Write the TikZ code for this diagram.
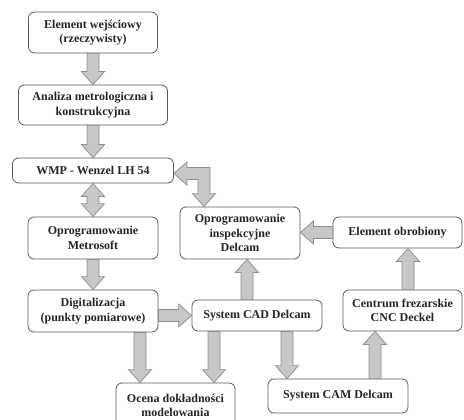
\documentclass[tikz,border=0pt]{standalone}
\usepackage{fontspec}
\setmainfont{Liberation Serif}
\usetikzlibrary{calc}
\newcommand\fatarrow[2]{%
  \coordinate (fhA) at ($(#2)!13pt!(#1)$);
  \draw[arr] ($(#1)!6pt!90:(#2)$) -- ($(fhA)!6pt!90:(#2)$) -- ($(fhA)!11.5pt!90:(#2)$) -- (#2)
    -- ($(fhA)!11.5pt!-90:(#2)$) -- ($(fhA)!6pt!-90:(#2)$) -- ($(#1)!6pt!-90:(#2)$) -- cycle;}
\newcommand\fatdarrow[2]{%
  \coordinate (fhA) at ($(#2)!13pt!(#1)$);
  \coordinate (fhB) at ($(#1)!13pt!(#2)$);
  \draw[arr] (#1) -- ($(fhB)!11.5pt!90:(#2)$) -- ($(fhB)!6pt!90:(#2)$) -- ($(fhA)!6pt!90:(#2)$)
    -- ($(fhA)!11.5pt!90:(#2)$) -- (#2) -- ($(fhA)!11.5pt!-90:(#2)$) -- ($(fhA)!6pt!-90:(#2)$)
    -- ($(fhB)!6pt!-90:(#2)$) -- ($(fhB)!11.5pt!-90:(#2)$) -- cycle;}
\begin{document}
\begin{tikzpicture}[x=1pt,y=-1pt,
  box/.style={draw=black!65, line width=0.8pt, rounded corners=6pt, align=center,
    inner sep=0pt, font=\fontsize{12}{14.5}\selectfont\bfseries, text=black!85, fill=white},
  arr/.style={draw=black!45, fill=black!22, line width=0.7pt, line join=miter}]
\useasboundingbox[fill=white] (0,0) rectangle (464,420);

\node[box, minimum width=129pt, minimum height=41pt] (b1) at (93,32.5) {Element wejściowy\\(rzeczywisty)};
\node[box, minimum width=149pt, minimum height=40pt] (b2) at (93,105) {Analiza metrologiczna i\\konstrukcyjna};
\node[box, minimum width=161pt, minimum height=25pt] (b3) at (93,170.5) {WMP - Wenzel LH 54};
\node[box, minimum width=130pt, minimum height=42pt] (b4) at (93,238) {Oprogramowanie\\Metrosoft};
\node[box, minimum width=130pt, minimum height=42pt] (b5) at (93,311) {Digitalizacja\\(punkty pomiarowe)};
\node[box, minimum width=120pt, minimum height=52pt] (insp) at (240,233) {Oprogramowanie\\inspekcyjne\\Delcam};
\node[box, minimum width=130pt, minimum height=31pt] (cad) at (257,315.5) {System CAD Delcam};
\node[box, minimum width=119pt, minimum height=45pt] (ocena) at (175.5,405.5) {Ocena dokładności\\modelowania};
\node[box, minimum width=129pt, minimum height=31pt] (obr) at (397.5,232.5) {Element obrobiony};
\node[box, minimum width=119pt, minimum height=41pt] (cnc) at (402.5,310.5) {Centrum frezarskie\\CNC Deckel};
\node[box, minimum width=140pt, minimum height=34pt] (cam) at (338,396) {System CAM Delcam};

\coordinate (s5) at (b5.east |- cad.west);
\coordinate (e5) at (cad.west);
\coordinate (s6) at ([xshift=47pt]b5.south);
\coordinate (e6) at (s6 |- ocena.north);
\coordinate (s7) at ([xshift=-43pt]cad.south);
\coordinate (e7) at (s7 |- ocena.north);
\coordinate (s8) at ([xshift=-10pt]cad.north);
\coordinate (e8) at (s8 |- insp.south);
\coordinate (s9) at ([xshift=30pt]cad.south);
\coordinate (e9) at (s9 |- cam.north);
\coordinate (s10) at ([xshift=37pt]cam.north);
\coordinate (e10) at (s10 |- cnc.south);
\coordinate (s11) at ([xshift=5.5pt]cnc.north);
\coordinate (e11) at (s11 |- obr.south);
\coordinate (s12) at (obr.west);
\coordinate (e12) at (obr.west -| insp.east);
\coordinate (el1) at ([yshift=-3pt]b3.east);
\coordinate (el2) at ([xshift=-36pt]insp.north);

\fatarrow{b1.south}{b2.north}
\fatarrow{b2.south}{b3.north}
\fatdarrow{b3.south}{b4.north}
\fatarrow{b4.south}{b5.north}
\fatarrow{s5}{e5}
\fatarrow{s6}{e6}
\fatarrow{s7}{e7}
\fatarrow{s8}{e8}
\fatarrow{s9}{e9}
\fatarrow{s10}{e10}
\fatarrow{s11}{e11}
\fatarrow{s12}{e12}
\draw[arr] let \p1=(el1), \p2=(el2) in
  (\p1) -- (\x1+13pt,\y1+11.5pt) -- (\x1+13pt,\y1+6pt) -- (\x2+6pt,\y1+6pt)
  -- (\x2+6pt,\y2+13pt) -- (\x2+11.5pt,\y2+13pt) -- (\p2) -- (\x2-11.5pt,\y2+13pt)
  -- (\x2-6pt,\y2+13pt) -- (\x2-6pt,\y1-6pt) -- (\x1+13pt,\y1-6pt) -- (\x1+13pt,\y1-11.5pt) -- cycle;
\end{tikzpicture}
\end{document}
